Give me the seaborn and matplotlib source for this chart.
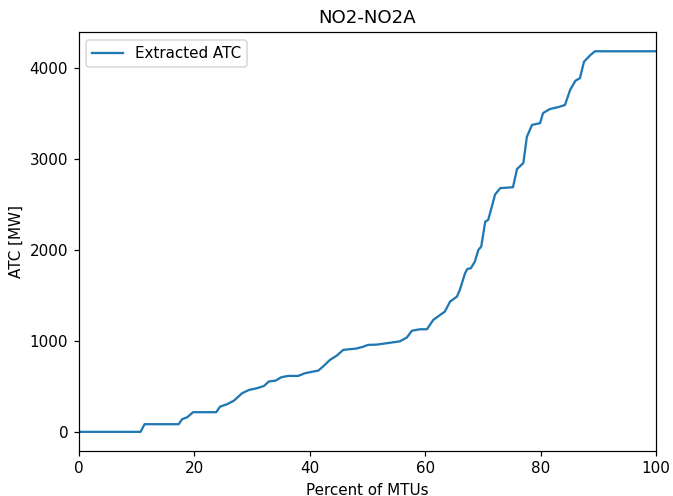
import pandas as pd
import matplotlib
matplotlib.use("Agg")
import matplotlib.pyplot as plt
import seaborn as sns

# ── data ─────────────────────────────────────────────────────
pct_mtus = [0, 10.7, 11.4, 17.3, 17.9, 18.8, 19.8, 23.8, 24.5, 25.7, 26.9,
            28.3, 29.5, 30.9, 32.1, 32.9, 34.1, 35.1, 36.3, 38.0, 39.2,
            41.5, 42.3, 43.5, 44.7, 45.8, 48.1, 49.3, 50.1, 51.6, 54.5,
            55.6, 56.8, 57.7, 59.1, 60.3, 61.4, 62.6, 63.4, 64.3, 65.5,
            66.0, 66.9, 67.3, 67.9, 68.6, 69.2, 69.7, 70.4, 70.9, 71.3,
            72.1, 73.0, 75.2, 75.9, 77.0, 77.6, 78.5, 79.9, 80.4, 81.6,
            83.0, 84.2, 85.1, 86.0, 86.8, 87.5, 88.6, 89.4, 100]
atc_mw = [0, 0, 84, 84, 139, 161, 216, 216, 278, 304, 344,
          425, 461, 480, 505, 553, 564, 601, 615, 615, 645,
          674, 718, 791, 839, 901, 916, 937, 956, 959, 985,
          995, 1036, 1112, 1128, 1128, 1231, 1286, 1322, 1432, 1487,
          1561, 1744, 1791, 1799, 1872, 2000, 2037, 2311, 2330, 2420,
          2610, 2680, 2690, 2890, 2956, 3243, 3375, 3395, 3505, 3550,
          3570, 3594, 3760, 3860, 3890, 4070, 4143, 4185, 4185]

df = pd.DataFrame({"pct": pct_mtus, "atc": atc_mw})

# ── plot ─────────────────────────────────────────────────────
DPI = 109
fig, ax = plt.subplots(figsize=(673 / DPI, 496 / DPI), dpi=DPI)
sns.lineplot(data=df, x="pct", y="atc", ax=ax, color="#1f77b4",
             linewidth=1.5, label="Extracted ATC")
ax.set_xlim(0, 100)
ax.set_title("NO2-NO2A")
ax.set_xlabel("Percent of MTUs")
ax.set_ylabel("ATC [MW]")
ax.legend(loc="upper left")
plt.subplots_adjust(left=0.117, right=0.975, top=0.935, bottom=0.091)
plt.savefig("out.png", dpi=DPI)
plt.close()
